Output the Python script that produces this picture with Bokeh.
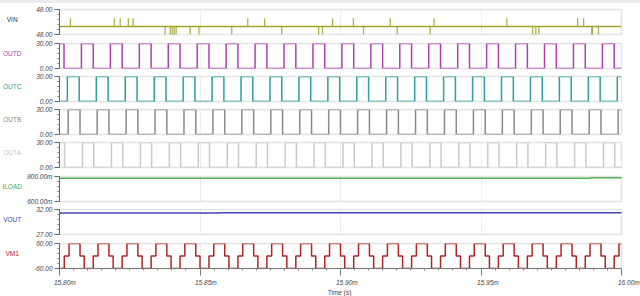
from bokeh.plotting import figure
from bokeh.layouts import column, row
from bokeh.models import (FixedTicker, PrintfTickFormatter, CustomJSTickFormatter,
                          Range1d, Spacer)
from bokeh.core.properties import value
from bokeh.embed import file_html
from bokeh.resources import INLINE

# ---------------- data (time in ms) ----------------
t_start, t_end = 15.80, 16.00
x_major = [15.80, 15.85, 15.90, 15.95, 16.00]
x_tick_labels = ["15.80m", "15.85m", "15.90m", "15.95m", "16.00m"]
x_title = "Time (s)"

names = ["VIN", "OUTD", "OUTC", "OUTB", "OUTA", "ILOAD", "VOUT", "VM1"]
y_lo = [47.998, 0.0, 0.0, 0.0, 0.0, 0.6, 27.0, -60.0]
y_hi = [48.002, 30.0, 30.0, 30.0, 30.0, 0.8, 32.0, 60.0]

# VIN: flat level with short glitches
vin_base = 47.9993
vin_up_level = 48.0006
vin_down_level = 47.9970
vin_up = [15.8039, 15.8195, 15.8216, 15.8245, 15.8262, 15.8670, 15.8730, 15.8972,
          15.9046, 15.9177, 15.9333, 15.9592, 15.9844, 15.9865]
vin_down = [15.8376, 15.8394, 15.8401, 15.8408, 15.8415, 15.8465, 15.8496, 15.8613,
            15.8791, 15.8922, 15.8936, 15.9082, 15.9202, 15.9319, 15.9684, 15.9695,
            15.9706, 15.9894, 15.9897, 15.9918]

# square-wave gate outputs (0 / 30 V)
OUTD_start = 30.0
OUTD_rise = [15.8078, 15.8181, 15.8284, 15.8387, 15.8490, 15.8593, 15.8696, 15.8799,
             15.8902, 15.9005, 15.9108, 15.9211, 15.9314, 15.9417, 15.9520, 15.9623,
             15.9726, 15.9829, 15.9932]
OUTD_fall = [15.8016, 15.8120, 15.8223, 15.8326, 15.8429, 15.8532, 15.8635, 15.8738,
             15.8841, 15.8944, 15.9047, 15.9150, 15.9253, 15.9356, 15.9459, 15.9562,
             15.9665, 15.9768, 15.9871, 15.9974]

OUTC_start = 0.0
OUTC_rise = [15.8028, 15.8131, 15.8234, 15.8337, 15.8440, 15.8543, 15.8646, 15.8749,
             15.8852, 15.8955, 15.9058, 15.9161, 15.9264, 15.9367, 15.9470, 15.9573,
             15.9676, 15.9779, 15.9882, 15.9985]
OUTC_fall = [15.8070, 15.8173, 15.8276, 15.8379, 15.8482, 15.8585, 15.8688, 15.8791,
             15.8894, 15.8997, 15.9100, 15.9203, 15.9306, 15.9409, 15.9512, 15.9615,
             15.9718, 15.9821, 15.9924]

OUTB_start = 0.0
OUTB_rise = [15.8031, 15.8134, 15.8237, 15.8340, 15.8443, 15.8546, 15.8649, 15.8752,
             15.8855, 15.8958, 15.9061, 15.9164, 15.9267, 15.9370, 15.9473, 15.9576,
             15.9679, 15.9782, 15.9885, 15.9988]
OUTB_fall = [15.8073, 15.8176, 15.8279, 15.8382, 15.8485, 15.8588, 15.8691, 15.8794,
             15.8897, 15.9000, 15.9103, 15.9206, 15.9309, 15.9412, 15.9515, 15.9618,
             15.9721, 15.9824, 15.9927]

OUTA_start = 30.0
OUTA_rise = [15.8082, 15.8185, 15.8288, 15.8391, 15.8494, 15.8597, 15.8700, 15.8803,
             15.8906, 15.9009, 15.9112, 15.9215, 15.9318, 15.9421, 15.9524, 15.9627,
             15.9730, 15.9833, 15.9936]
OUTA_fall = [15.8018, 15.8122, 15.8225, 15.8328, 15.8431, 15.8534, 15.8637, 15.8740,
             15.8843, 15.8946, 15.9049, 15.9152, 15.9255, 15.9358, 15.9461, 15.9564,
             15.9667, 15.9770, 15.9873, 15.9976]

# load current (A) and output voltage (V)
ILOAD_t = [15.8000, 15.9890, 15.9890, 16.0000]
ILOAD_v = [0.787, 0.787, 0.791, 0.791]
VOUT_t = [15.8000, 15.8567, 15.8567, 16.0000]
VOUT_v = [31.32, 31.32, 31.36, 31.36]

# VM1: three-level bridge voltage (-60 / 0 / +60)
VM1_start = -60.0
VM1_neg_to_zero = [15.8017, 15.8120, 15.8223, 15.8326, 15.8429, 15.8532, 15.8635, 15.8738,
                   15.8841, 15.8944, 15.9047, 15.9150, 15.9253, 15.9356, 15.9459, 15.9562,
                   15.9665, 15.9768, 15.9871, 15.9974]
VM1_zero_to_pos = [15.8034, 15.8137, 15.8240, 15.8343, 15.8446, 15.8549, 15.8652, 15.8755,
                   15.8858, 15.8961, 15.9064, 15.9167, 15.9270, 15.9373, 15.9476, 15.9579,
                   15.9682, 15.9785, 15.9888, 15.9991]
VM1_pos_to_zero = [15.8073, 15.8176, 15.8279, 15.8382, 15.8485, 15.8588, 15.8691, 15.8794,
                   15.8897, 15.9000, 15.9103, 15.9206, 15.9309, 15.9412, 15.9515, 15.9618,
                   15.9721, 15.9824, 15.9927]
VM1_zero_to_neg = [15.8088, 15.8191, 15.8294, 15.8397, 15.8500, 15.8603, 15.8706, 15.8809,
                   15.8912, 15.9015, 15.9118, 15.9221, 15.9324, 15.9427, 15.9530, 15.9633,
                   15.9736, 15.9839, 15.9942]

# ---------------- styling / layout ----------------
line_colors = ["#a3a32e", "#b040b0", "#2e9e9e", "#8a8a8a", "#cacaca", "#55b055", "#4444b0", "#b22424"]
name_colors = ["#333333", "#b040b0", "#2e9e9e", "#8a8a8a", "#c4c4c4", "#4aa84a", "#4444b0", "#b22424"]
FONT = "Liberation Sans"
TXT = "#444444"
AXIS = "#777777"

W = 640
BAND = 3
NAME_W = 24                # strip holding the trace names
LEFT = 57                  # x of plot frame left edge
RIGHT = 19                 # blank space right of frame
FRAME_W = W - LEFT - RIGHT
heights = [35, 34, 33, 33, 33, 34, 33, 38]
tops = [6, 5, 4, 4, 4, 5, 4, 5]
bottoms = [4, 4, 4, 4, 4, 4, 4, 8]
STRIP_H = 296 - BAND - sum(heights)


def step_path(start_level, edges):
    xs, ys = [t_start], [start_level]
    level = start_level
    for t, new in sorted(edges):
        xs += [t, t]
        ys += [level, new]
        level = new
    xs.append(t_end)
    ys.append(level)
    return xs, ys


def square(start, rises, falls, hi=30.0, lo=0.0):
    edges = [(t, hi) for t in rises] + [(t, lo) for t in falls]
    return step_path(start, edges)


x_range = Range1d(t_start, t_end)

figs = []
for i, name in enumerate(names):
    last = i == len(names) - 1
    p = figure(width=W - NAME_W, height=heights[i], x_range=x_range,
               y_range=Range1d(y_lo[i], y_hi[i]),
               output_backend="svg", toolbar_location=None,
               x_axis_location="below" if last else None,
               min_border_left=LEFT - NAME_W, min_border_right=RIGHT,
               min_border_top=tops[i], min_border_bottom=bottoms[i])
    p.outline_line_color = "#e4e4e4"
    p.outline_line_width = 1.5
    p.ygrid.visible = False
    p.xgrid.ticker = FixedTicker(ticks=x_major[1:-1])
    p.xgrid.grid_line_color = "#cfcfcf"
    p.xgrid.grid_line_dash = "1 2"

    lo, hi = y_lo[i], y_hi[i]
    yax = p.yaxis[0]
    yax.ticker = FixedTicker(ticks=[lo, hi],
                             minor_ticks=[lo + k * (hi - lo) / 5 for k in range(1, 5)])
    if name == "ILOAD":
        yax.formatter = CustomJSTickFormatter(code="return (tick*1000).toFixed(2) + 'm';")
    else:
        yax.formatter = PrintfTickFormatter(format="%.2f")
    yax.major_label_text_font = FONT
    yax.major_label_text_font_style = "italic"
    yax.major_label_text_font_size = "6.5px"
    yax.major_label_text_color = TXT
    yax.major_label_standoff = 2
    yax.major_tick_out = 5
    yax.major_tick_in = 0
    yax.minor_tick_out = 2
    yax.minor_tick_in = 0
    yax.axis_line_color = "#666666"
    yax.major_tick_line_color = "#666666"
    yax.minor_tick_line_color = AXIS

    col = line_colors[i]
    if name == "VIN":
        p.line([t_start, t_end], [vin_base, vin_base], line_color=col, line_width=1.5)
        p.segment(x0=vin_up, y0=[vin_base] * len(vin_up), x1=vin_up,
                  y1=[vin_up_level] * len(vin_up), line_color=col, line_width=1.3, line_alpha=0.85)
        p.segment(x0=vin_down, y0=[vin_base] * len(vin_down), x1=vin_down,
                  y1=[vin_down_level] * len(vin_down), line_color=col, line_width=1.3, line_alpha=0.85)
    elif name == "OUTD":
        xs, ys = square(OUTD_start, OUTD_rise, OUTD_fall)
        p.line(xs, ys, line_color=col, line_width=1.5)
    elif name == "OUTC":
        xs, ys = square(OUTC_start, OUTC_rise, OUTC_fall)
        p.line(xs, ys, line_color=col, line_width=1.5)
    elif name == "OUTB":
        xs, ys = square(OUTB_start, OUTB_rise, OUTB_fall)
        p.line(xs, ys, line_color=col, line_width=1.5)
    elif name == "OUTA":
        xs, ys = square(OUTA_start, OUTA_rise, OUTA_fall)
        p.line(xs, ys, line_color=col, line_width=1.5)
    elif name == "ILOAD":
        p.line(ILOAD_t, ILOAD_v, line_color=col, line_width=1.5)
    elif name == "VOUT":
        p.line(VOUT_t, VOUT_v, line_color=col, line_width=1.5)
    elif name == "VM1":
        edges = ([(t, 0.0) for t in VM1_neg_to_zero] + [(t, 60.0) for t in VM1_zero_to_pos]
                 + [(t, 0.0) for t in VM1_pos_to_zero] + [(t, -60.0) for t in VM1_zero_to_neg])
        xs, ys = step_path(VM1_start, edges)
        p.line(xs, ys, line_color=col, line_width=1.5)

    if last:
        # axis line and ticks only; the tick labels are drawn in the strip below
        xax = p.xaxis[0]
        xax.ticker = FixedTicker(ticks=x_major,
                                 minor_ticks=[round(t_start + k * 0.005, 3) for k in range(1, 40)])
        xax.major_label_text_color = None
        xax.major_label_text_font_size = "1px"
        xax.major_label_standoff = 0
        xax.major_tick_out = 7
        xax.major_tick_in = 0
        xax.minor_tick_out = 2
        xax.minor_tick_in = 0
        xax.axis_line_color = AXIS
        xax.major_tick_line_color = AXIS
        xax.minor_tick_line_color = "#888888"
    figs.append(p)

# names strip on the left (y in pixels from the top of the strip)
panel_h = sum(heights)
name_y = []
acc = 0
for h, b in zip(heights, bottoms):
    name_y.append(acc + h - b - 15)
    acc += h
names_fig = figure(width=NAME_W, height=panel_h, x_range=Range1d(0, NAME_W),
                   y_range=Range1d(panel_h, 0), output_backend="svg", toolbar_location=None,
                   x_axis_location=None, y_axis_location=None, min_border=0)
names_fig.outline_line_color = None
names_fig.grid.visible = False
names_fig.text(x=[11.7] * len(names), y=name_y, text=names, text_color=name_colors,
               text_align="center", text_baseline="middle",
               text_font=value(FONT), text_font_size=value("6.5px"))

# time tick labels + axis title strip (same time scale as the panels)
px = (t_end - t_start) / FRAME_W
strip = figure(width=W, height=STRIP_H,
               x_range=Range1d(t_start - LEFT * px, t_end + RIGHT * px),
               y_range=Range1d(STRIP_H, 0), output_backend="svg", toolbar_location=None,
               x_axis_location=None, y_axis_location=None, min_border=0)
strip.outline_line_color = None
strip.grid.visible = False
strip.text(x=x_major, y=[6] * len(x_major), text=x_tick_labels, x_offset=-3.5,
           text_align="left", text_baseline="middle", text_color=TXT,
           text_font=value(FONT), text_font_style="italic", text_font_size=value("6.5px"))
strip.text(x=[(t_start + t_end) / 2], y=[16], text=[x_title], text_align="center",
           text_baseline="middle", text_color=TXT,
           text_font=value(FONT), text_font_size=value("6.5px"))

top_band = Spacer(width=W, height=BAND, styles={"background-color": "#ececec"})
layout = column([top_band, row([names_fig, column(figs, spacing=0)], spacing=0), strip],
                spacing=0)

open("out.html", "w").write(file_html(layout, INLINE))
